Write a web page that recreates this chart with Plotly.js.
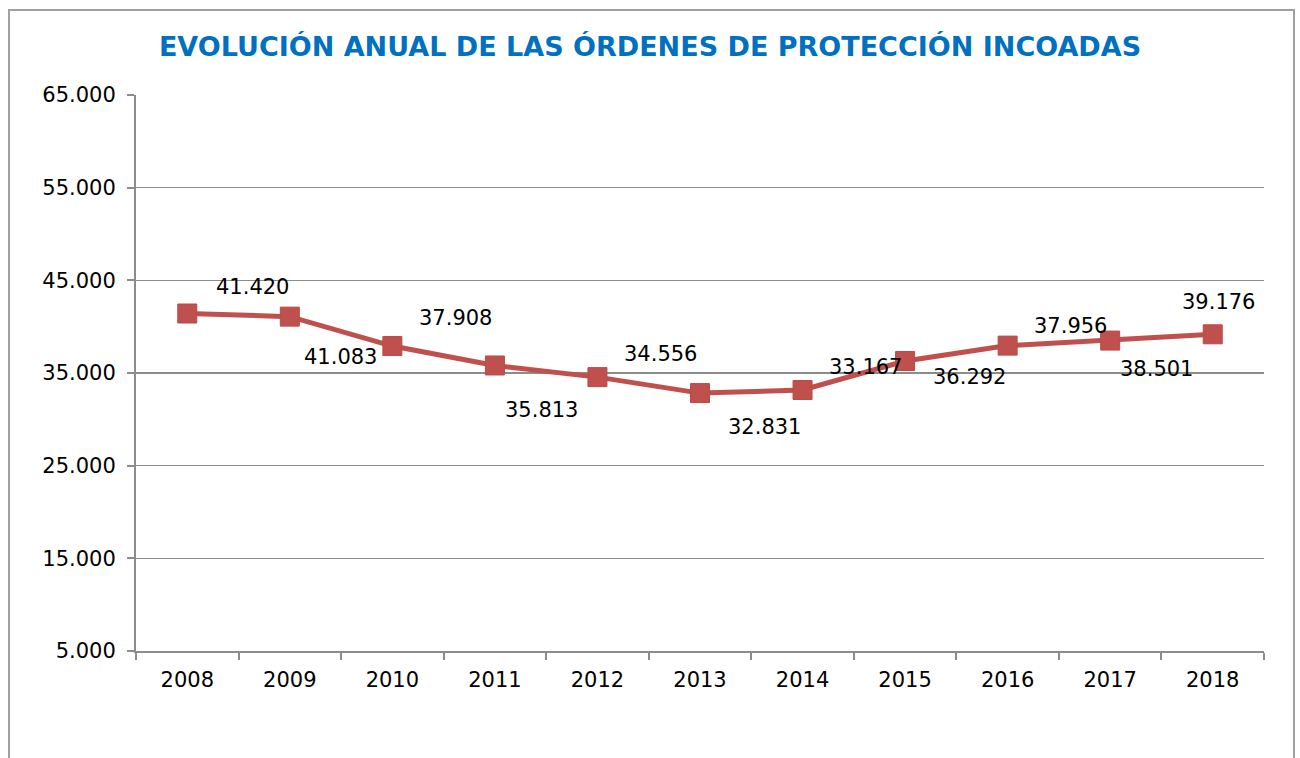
<!DOCTYPE html>
<html>
<head>
<meta charset="utf-8">
<script src="https://cdn.plot.ly/plotly-3.0.1.min.js"></script>
<style>
html,body{margin:0;padding:0;background:#fff;}
#wrap{position:relative;width:1300px;height:758px;}
#chart{width:1300px;height:758px;}
#frame{position:absolute;left:8px;top:9px;width:1283px;height:760px;border:2px solid #a0a0a0;border-bottom:none;pointer-events:none;}
</style>
</head>
<body>
<div id="wrap"><div id="chart"></div><div id="frame"></div></div>
<script>
var years = ['2008','2009','2010','2011','2012','2013','2014','2015','2016','2017','2018'];
var ordenes = [41420, 41083, 37908, 35813, 34556, 32831, 33167, 36292, 37956, 38501, 39176];
var labelTexts = ['41.420','41.083','37.908','35.813','34.556','32.831','33.167','36.292','37.956','38.501','39.176'];
var yTickVals = [5000, 15000, 25000, 35000, 45000, 55000, 65000];
var yTickText = ['5.000','15.000','25.000','35.000','45.000','55.000','65.000'];

// label placement offsets in pixels (dx, dy up)
var labelShiftX = [65, 51, 63, 47, 63, 64, 63, 64, 63, 46, 6];
var labelShiftY = [27, -40, 28, -45, 23, -34, 23, -16, 20, -28, 32];

var FONT = '"DejaVu Sans", Verdana, sans-serif';

var trace = {
  x: years, y: ordenes, type: 'scatter', mode: 'lines+markers',
  line: {color: '#C0504D', width: 5},
  marker: {symbol: 'square', size: 19, color: '#C0504D', line: {color: '#B84B48', width: 1}},
  hoverinfo: 'x+y'
};

var annotations = years.map(function(yr, i){
  return {x: i, y: ordenes[i], xref: 'x', yref: 'y', text: labelTexts[i], showarrow: false,
    xanchor: 'center', yanchor: 'middle',
    xshift: labelShiftX[i], yshift: labelShiftY[i], font: {family: FONT, size: 21, color: '#000000'}};
});

var layout = {
  width: 1300, height: 758,
  margin: {l: 136, r: 36, t: 95, b: 107},
  paper_bgcolor: '#fff', plot_bgcolor: '#fff',
  showlegend: false,
  title: {text: '<b>EVOLUCIÓN ANUAL DE LAS ÓRDENES DE PROTECCIÓN INCOADAS</b>',
    font: {family: FONT, size: 27, color: '#0070C0'},
    x: 0.5, xanchor: 'center', y: 0.938, yanchor: 'middle'},
  xaxis: {type: 'category', range: [-0.5, 10.5], tickson: 'boundaries',
    ticks: 'outside', ticklen: 7, tickwidth: 2, tickcolor: '#8c8c8c',
    showline: true, linecolor: '#8c8c8c', linewidth: 2, showgrid: false, zeroline: false,
    tickfont: {family: FONT, size: 21, color: '#000'}, ticklabelstandoff: 9, fixedrange: true},
  yaxis: {range: [5000, 65000], tickvals: yTickVals, ticktext: yTickText,
    ticks: 'outside', ticklen: 7, tickwidth: 2, tickcolor: '#8c8c8c',
    showline: true, linecolor: '#8c8c8c', linewidth: 2,
    showgrid: true, gridcolor: '#8c8c8c', gridwidth: 1.5, zeroline: false,
    tickfont: {family: FONT, size: 21, color: '#000'}, ticklabelstandoff: 7, fixedrange: true},
  annotations: annotations
};

Plotly.newPlot('chart', [trace], layout, {displayModeBar: false, staticPlot: true});
</script>
</body>
</html>
